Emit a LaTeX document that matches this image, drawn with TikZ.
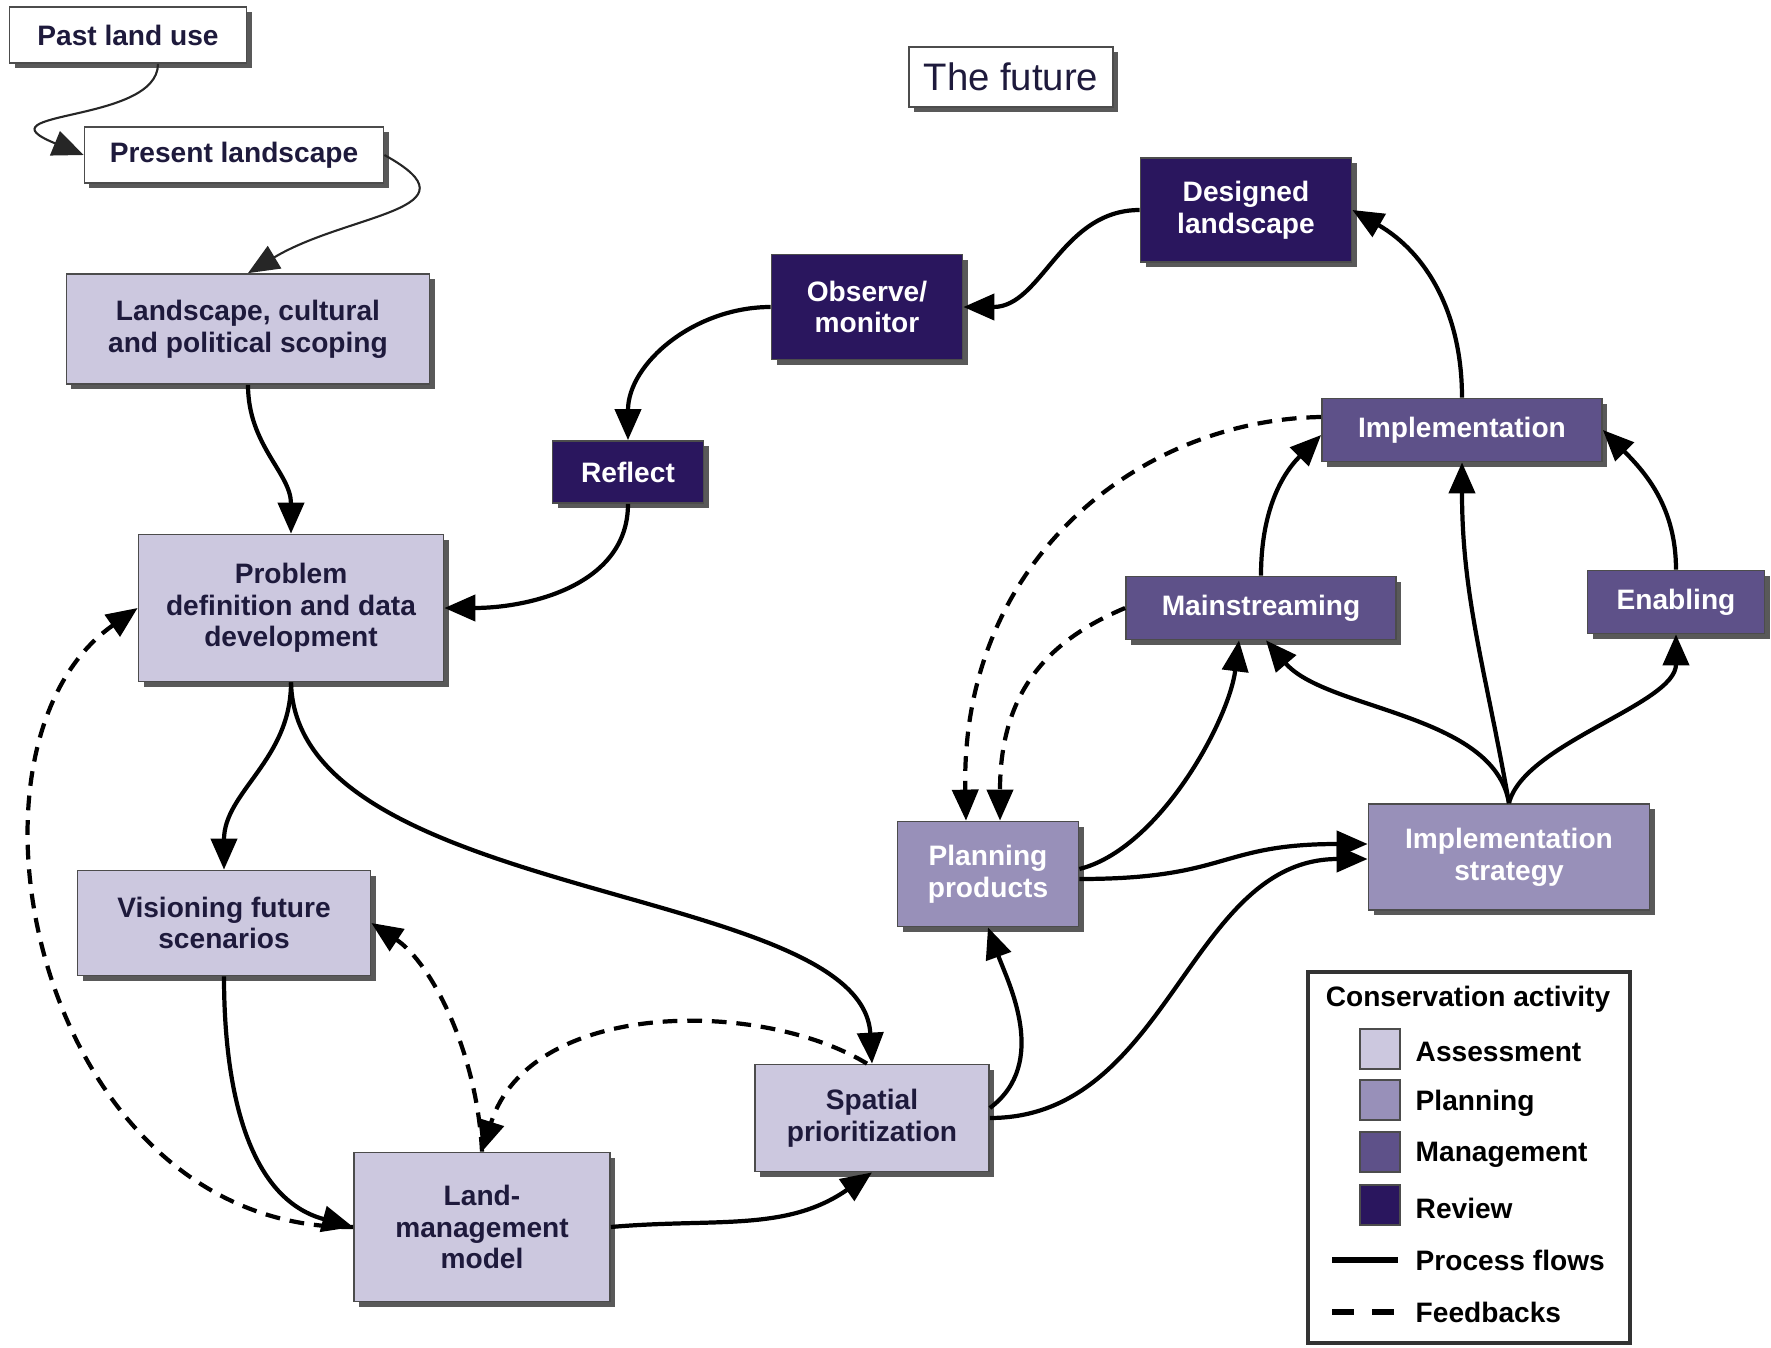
\documentclass[tikz,border=0pt]{standalone}
\usepackage{fontspec}
\setmainfont{Liberation Sans}
\usetikzlibrary{arrows.meta, shadows}

\definecolor{assesscol}{HTML}{CCC8DF}
\definecolor{plancol}{HTML}{9890B9}
\definecolor{mgmtcol}{HTML}{5E5189}
\definecolor{reviewcol}{HTML}{2A165E}
\definecolor{textdark}{HTML}{1E1A3C}

\begin{document}
\begin{tikzpicture}[>={Triangle[length=3.1mm,width=2.6mm]}, font=\bfseries\fontsize{8}{9}\selectfont]
  \tikzstyle{block} = [draw=black!70, rectangle, line width=0.5pt, align=center, inner sep=0pt,
    drop shadow={shadow xshift=0.05cm, shadow yshift=-0.05cm, fill=black!65, opacity=1}]
  \tikzstyle{whitebox} = [block, fill=white, text=textdark]
  \tikzstyle{assess} = [block, fill=assesscol, text=textdark]
  \tikzstyle{planbox} = [block, fill=plancol, text=white]
  \tikzstyle{manage} = [block, fill=mgmtcol, text=white]
  \tikzstyle{review} = [block, fill=reviewcol, text=white]
  \tikzstyle{swatch} = [draw=black!70, line width=0.6pt, minimum size=0.4cm, inner sep=0pt]
  \tikzstyle{flow} = [->, line width=1.2pt]
  \tikzstyle{thinflow} = [->, line width=0.6pt, black!85]
  \tikzstyle{feedback} = [->, line width=1.2pt, dash pattern=on 4.2pt off 2.8pt]

  \useasboundingbox (0,0) rectangle (17.71,-13.48);

  % past and present
  \node [whitebox, minimum width=2.37cm, minimum height=0.56cm] (past) at (1.28,-0.35) {Past land use};
  \node [whitebox, minimum width=2.99cm, minimum height=0.56cm] (present) at (2.34,-1.55) {Present landscape};
  \node [whitebox, minimum width=2.04cm, minimum height=0.60cm, font=\mdseries\fontsize{10.9}{12}\selectfont] (future) at (10.11,-0.77) {The future};

  % assessment
  \node [assess, minimum width=3.63cm, minimum height=1.10cm] (scope) at (2.48,-3.29) {Landscape, cultural\\and political scoping};
  \node [assess, minimum width=3.05cm, minimum height=1.47cm] (prob) at (2.91,-6.08) {Problem\\definition and data\\development};
  \node [assess, minimum width=2.93cm, minimum height=1.05cm] (vis) at (2.24,-9.23) {Visioning future\\scenarios};
  \node [assess, minimum width=2.56cm, minimum height=1.49cm] (land) at (4.82,-12.27) {Land-\\management\\model};
  \node [assess, minimum width=2.34cm, minimum height=1.07cm] (spat) at (8.72,-11.18) {Spatial\\prioritization};

  % review
  \node [review, minimum width=1.51cm, minimum height=0.62cm] (refl) at (6.28,-4.72) {Reflect};
  \node [review, minimum width=1.91cm, minimum height=1.05cm] (obs) at (8.67,-3.07) {Observe/\\monitor};
  \node [review, minimum width=2.11cm, minimum height=1.04cm] (des) at (12.46,-2.10) {Designed\\landscape};

  % management
  \node [manage, minimum width=2.80cm, minimum height=0.63cm] (impl) at (14.62,-4.30) {Implementation};
  \node [manage, minimum width=2.70cm, minimum height=0.63cm] (main) at (12.61,-6.08) {Mainstreaming};
  \node [manage, minimum width=1.77cm, minimum height=0.63cm] (enab) at (16.76,-6.02) {Enabling};

  % planning
  \node [planbox, minimum width=1.81cm, minimum height=1.05cm] (plan) at (9.88,-8.74) {Planning\\products};
  \node [planbox, minimum width=2.81cm, minimum height=1.06cm] (strat) at (15.09,-8.57) {Implementation\\strategy};

  % process flows
  \draw [thinflow] ([xshift=0.3cm]past.south) .. controls +(0,-0.6) and +(-1.1,0.45) .. (present.west);
  \draw [thinflow] (present.east) .. controls +(1.0,-0.55) and +(1.0,0.6) .. (scope.north);
  \draw [flow] (scope.south) to[out=-90,in=90] (prob.north);
  \draw [flow] (prob.south) to[out=-90,in=90] (vis.north);
  \draw [flow] (prob.south) .. controls +(0.05,-2.2) and +(-0.1,1.8) .. (spat.north);
  \draw [flow] (vis.south) to[out=-90,in=165] (land.west);
  \draw [flow] (land.east) to[out=5,in=-145] (spat.south);
  \draw [flow] ([yshift=0.1cm]spat.east) .. controls +(0.6,0.45) and +(0.2,-0.55) .. (plan.south);
  \draw [flow] (spat.east) to[out=0,in=180] ([yshift=-0.02cm]strat.west);
  \draw [flow] ([yshift=-0.05cm]plan.east) .. controls +(1.5,0) and +(-1.5,0) .. ([yshift=0.13cm]strat.west);
  \draw [flow] ([yshift=0.05cm]plan.east) .. controls +(0.8,0.2) and +(-0.1,-0.8) .. ([xshift=-0.22cm]main.south);
  \draw [flow] (strat.north) .. controls +(-0.15,0.9) and +(0.6,-0.7) .. ([xshift=0.05cm]main.south);
  \draw [flow] (strat.north) .. controls +(0.15,0.6) and +(0,-0.7) .. (enab.south);
  \draw [flow] (strat.north) to[out=100,in=-90] (impl.south);
  \draw [flow] (main.north) to[out=90,in=-135] ([yshift=-0.05cm]impl.west);
  \draw [flow] (enab.north) to[out=90,in=-45] (impl.east);
  \draw [flow] (impl.north) to[out=90,in=-30] (des.east);
  \draw [flow] (des.west) to[out=180,in=0] (obs.east);
  \draw [flow] (obs.west) to[out=180,in=90] (refl.north);
  \draw [flow] (refl.south) to[out=-90,in=0] (prob.east);

  % feedbacks
  \draw [feedback] (land.west) .. controls +(-3.14,-0.03) and +(-2.0,-1.4) .. (prob.west);
  \draw [feedback] (land.north) .. controls +(-0.05,1.0) and +(0.6,-0.4) .. (vis.east);
  \draw [feedback] ([xshift=-0.05cm]spat.north) .. controls +(-1.07,0.65) and +(0.48,1.525) .. (land.north);
  \draw [feedback] ([yshift=0.13cm]impl.west) .. controls +(-1.82,-0.03) and +(-0.06,2.6) .. ([xshift=-0.22cm]plan.north);
  \draw [feedback] (main.west) .. controls +(-0.76,-0.32) and +(0,1.3) .. ([xshift=0.12cm]plan.north);

  % legend
  \node [draw=black!80, line width=1pt, minimum width=3.22cm, minimum height=3.71cm] (legend) at (14.69,-11.575) {};
  \node (legtitle) at (14.68,-9.99) {Conservation activity};
  \node [swatch, fill=assesscol] (sw1) at (13.80,-10.49) {};
  \node [swatch, fill=plancol] (sw2) at (13.80,-11.00) {};
  \node [swatch, fill=mgmtcol] (sw3) at (13.80,-11.52) {};
  \node [swatch, fill=reviewcol] (sw4) at (13.80,-12.05) {};
  \node [anchor=west, inner sep=0pt] (lab1) at (14.15,-10.52) {Assessment};
  \node [anchor=west, inner sep=0pt] (lab2) at (14.15,-11.03) {Planning};
  \node [anchor=west, inner sep=0pt] (lab3) at (14.15,-11.55) {Management};
  \node [anchor=west, inner sep=0pt] (lab4) at (14.15,-12.08) {Review};
  \node [anchor=west, inner sep=0pt] (lab5) at (14.15,-12.60) {Process flows};
  \node [anchor=west, inner sep=0pt] (lab6) at (14.15,-13.12) {Feedbacks};
  \draw [line width=1.5pt] ([xshift=-0.83cm]lab5.west) -- ++(0.66,0);
  \draw [line width=1.5pt, dash pattern=on 0.22cm off 0.18cm] ([xshift=-0.83cm]lab6.west) -- ++(0.66,0);
\end{tikzpicture}
\end{document}
